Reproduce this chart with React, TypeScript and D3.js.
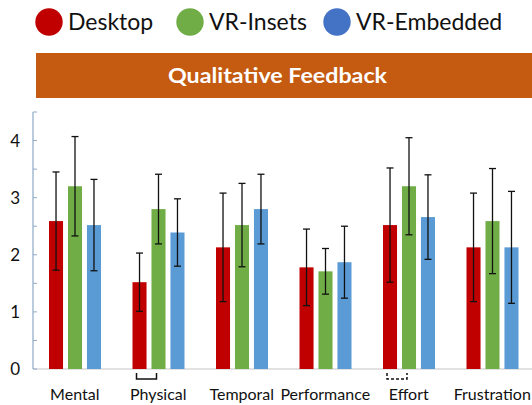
import * as d3 from "d3";

// NASA-TLX style ratings, mean and error per condition
const categories = ["Mental", "Physical", "Temporal", "Performance", "Effort", "Frustration"];
const series = ["Desktop", "VR-Insets", "VR-Embedded"];
const colors = ["#C00000", "#70AD47", "#5B9BD5"];
const legendColors = ["#C00000", "#70AD47", "#4472C4"];

const desktopMean = [2.59, 1.52, 2.13, 1.78, 2.52, 2.13];
const insetsMean = [3.2, 2.8, 2.52, 1.71, 3.2, 2.59];
const embeddedMean = [2.52, 2.39, 2.8, 1.87, 2.66, 2.13];

const desktopErr = [0.86, 0.51, 0.95, 0.67, 1.0, 0.95];
const insetsErr = [0.87, 0.61, 0.73, 0.4, 0.85, 0.92];
const embeddedErr = [0.8, 0.59, 0.61, 0.63, 0.74, 0.98];

const yTicks = [0, 0.5, 1, 1.5, 2, 2.5, 3, 3.5, 4, 4.5];
const yLabels = [0, 1, 2, 3, 4];

const title = "Qualitative Feedback";

const means = [desktopMean, insetsMean, embeddedMean];
const errs = [desktopErr, insetsErr, embeddedErr];

const W = 532;
const H = 405;
const font = "Lato, 'Open Sans', sans-serif";

export default function App() {
  const x0 = d3.scaleBand<string>().domain(categories).range([33, 534]);
  const x1 = d3.scaleBand<string>().domain(series).range([16, 68]).paddingInner(0.26);
  const y = d3.scaleLinear().domain([0, 4.5]).range([369, 112]);

  const bars = categories.flatMap((c, i) =>
    series.map((s, j) => ({
      key: `${c}-${s}`,
      x: (x0(c) ?? 0) + (x1(s) ?? 0),
      mean: means[j][i],
      err: errs[j][i],
      color: colors[j],
    }))
  );

  // little bracket marks under Physical (solid) and Effort (dashed)
  const bracket = (cat: string) => {
    const l = (x0(cat) ?? 0) + (x1("Desktop") ?? 0) + 4;
    const r = (x0(cat) ?? 0) + (x1("VR-Insets") ?? 0) + x1.bandwidth() / 2 - 2;
    return `M${l},373V379H${r}V373`;
  };

  const legendX = [49, 190, 337];

  return (
    <svg
      width={W}
      height={H}
      style={{ position: "absolute", left: 0, top: 0, background: "#fff" }}
      fontFamily={font}
    >
      {/* legend */}
      {series.map((s, j) => (
        <g key={s}>
          <circle cx={legendX[j]} cy={22} r={13.7} fill={legendColors[j]} />
          <text x={legendX[j] + 19} y={30} fontSize={23} fill="#111">
            {s}
          </text>
        </g>
      ))}

      {/* title banner */}
      <rect x={36} y={53} width={W - 36} height={45} fill="#C55A11" />
      <text
        x={277.5}
        y={83}
        textAnchor="middle"
        fontSize={21}
        fontWeight="bold"
        fill="#fff"
        textLength={219}
        lengthAdjust="spacingAndGlyphs"
      >
        {title}
      </text>

      {/* baseline */}
      <line x1={33} x2={W} y1={y(0)} y2={y(0)} stroke="#d9d9d9" strokeWidth={1.5} />

      {/* y axis */}
      <line x1={33} x2={33} y1={y(4.5)} y2={y(0)} stroke="#8EA9C8" strokeWidth={1.2} />
      {yTicks.map((t) => (
        <line key={t} x1={33} x2={37} y1={y(t)} y2={y(t)} stroke="#8EA9C8" strokeWidth={1} />
      ))}
      {yLabels.map((t) => (
        <text key={t} x={20} y={y(t) + 6} textAnchor="end" fontSize={17} fill="#111">
          {t}
        </text>
      ))}

      {/* bars */}
      {bars.map((b) => (
        <rect
          key={b.key}
          x={b.x}
          y={y(b.mean)}
          width={x1.bandwidth()}
          height={y(0) - y(b.mean)}
          fill={b.color}
        />
      ))}

      {/* error bars */}
      {bars.map((b) => {
        const cx = b.x + x1.bandwidth() / 2;
        const top = y(b.mean + b.err);
        const bot = y(b.mean - b.err);
        return (
          <g key={`e-${b.key}`} stroke="#111" strokeWidth={1.3}>
            <line x1={cx} x2={cx} y1={top} y2={bot} />
            <line x1={cx - 3.5} x2={cx + 3.5} y1={top} y2={top} />
            <line x1={cx - 3.5} x2={cx + 3.5} y1={bot} y2={bot} />
          </g>
        );
      })}

      <path d={bracket("Physical")} fill="none" stroke="#111" strokeWidth={1.5} />
      <path
        d={bracket("Effort")}
        fill="none"
        stroke="#111"
        strokeWidth={1.5}
        strokeDasharray="3,2"
      />

      {/* category labels */}
      {categories.map((c) => (
        <text
          key={c}
          x={(x0(c) ?? 0) + x0.bandwidth() / 2}
          y={400}
          textAnchor="middle"
          fontSize={16}
          fill="#111"
        >
          {c}
        </text>
      ))}
    </svg>
  );
}
